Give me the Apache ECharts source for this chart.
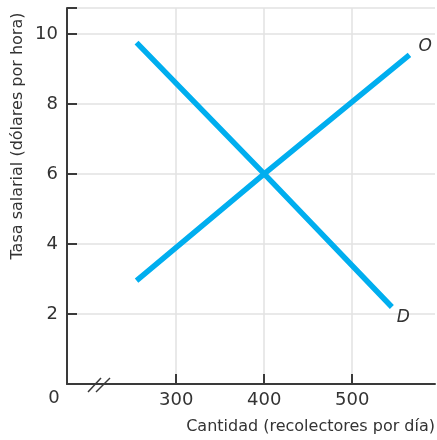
<!DOCTYPE html>
<html>
<head>
<meta charset="utf-8">
<script src="https://cdn.jsdelivr.net/npm/echarts@6/dist/echarts.min.js"></script>
<style>html,body{margin:0;padding:0;background:#fff;}#c{width:437px;height:440px;}</style>
</head>
<body>
<div id="c"></div>
<script>
// Data
const demandQty = [255, 400, 545];
const demandWage = [9.75, 6, 2.2];
const supplyQty = [255, 400, 565];
const supplyWage = [2.95, 6, 9.4];
const xTicks = [300, 400, 500];
const yTicks = [2, 4, 6, 8, 10];
const demandName = 'D';
const supplyName = 'O';
const xTitle = 'Cantidad (recolectores por día)';
const yTitle = 'Tasa salarial (dólares por hora)';
const originLabel = '0';

const FONT = '"DejaVu Sans"';
const TXT = '#333';
const LINE = '#00AEEF';

function buildData(xs, ys, name, offset) {
  return xs.map((x, i) => {
    const item = { value: [x, ys[i]] };
    if (i === xs.length - 1) {
      item.label = { show: true, formatter: name, position: 'right', distance: 0, offset: offset,
        fontFamily: FONT, fontStyle: 'italic', fontSize: 17, color: TXT };
    }
    return item;
  });
}

const chart = echarts.init(document.getElementById('c'), null, { renderer: 'canvas' });
chart.setOption({
  animation: false,
  backgroundColor: '#fff',
  grid: { left: 67, top: 8, right: 2, bottom: 56, containLabel: false },
  xAxis: {
    type: 'value', min: 176, max: 594,
    axisLine: { show: true, lineStyle: { color: '#3a3a3a', width: 2 } },
    axisTick: { show: true, inside: true, length: 10, customValues: xTicks, lineStyle: { color: '#3a3a3a', width: 2 } },
    axisLabel: { show: true, customValues: xTicks, margin: 7, fontFamily: FONT, fontSize: 18, color: TXT },
    splitLine: { show: true, lineStyle: { color: '#e2e2e2', width: 1.5 } }
  },
  yAxis: {
    type: 'value', min: 0, max: 10.74, interval: 2,
    axisLine: { show: true, lineStyle: { color: '#3a3a3a', width: 2 } },
    axisTick: { show: true, inside: true, length: 10, lineStyle: { color: '#3a3a3a', width: 2 } },
    axisLabel: { show: true, margin: 9, fontFamily: FONT, fontSize: 18, color: TXT,
      formatter: v => (yTicks.indexOf(v) >= 0 ? String(v) : '') },
    splitLine: { show: true, lineStyle: { color: '#e2e2e2', width: 1.5 } }
  },
  series: [
    { type: 'line', name: demandName, data: buildData(demandQty, demandWage, demandName, [5, 11]),
      showSymbol: true, symbol: 'circle', symbolSize: 0, lineStyle: { color: LINE, width: 5.5, cap: 'butt' },
      itemStyle: { color: LINE }, z: 3 },
    { type: 'line', name: supplyName, data: buildData(supplyQty, supplyWage, supplyName, [9, -8]),
      showSymbol: true, symbol: 'circle', symbolSize: 0, lineStyle: { color: LINE, width: 5.5, cap: 'butt' },
      itemStyle: { color: LINE }, z: 3 }
  ],
  graphic: [
    { type: 'text', x: 435, y: 427, style: { text: xTitle, font: '16px ' + FONT, fill: TXT, textAlign: 'right', textVerticalAlign: 'middle' } },
    { type: 'text', x: 18, y: 136, rotation: Math.PI / 2, style: { text: yTitle, font: '16px ' + FONT, fill: TXT, textAlign: 'center', textVerticalAlign: 'middle' } },
    { type: 'text', x: 54, y: 398, style: { text: originLabel, font: '18px ' + FONT, fill: TXT, textAlign: 'center', textVerticalAlign: 'middle' } },
    { type: 'line', shape: { x1: 88, y1: 392, x2: 101, y2: 378 }, style: { stroke: '#3a3a3a', lineWidth: 1.5 } },
    { type: 'line', shape: { x1: 96, y1: 392, x2: 110, y2: 378 }, style: { stroke: '#3a3a3a', lineWidth: 1.5 } }
  ]
});
</script>
</body>
</html>
